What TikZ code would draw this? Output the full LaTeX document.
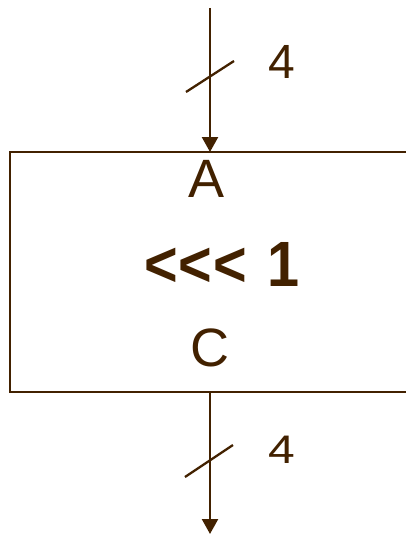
\documentclass[tikz,border=0pt]{standalone}
\usepackage{fontspec}
\setmainfont{Liberation Sans}
\usetikzlibrary{arrows.meta}
\definecolor{ink}{RGB}{66,33,0}
\begin{document}
\begin{tikzpicture}[x=1pt,y=-1pt,
  wire/.style={draw=ink,line width=2.3pt},
  bus/.style={draw=ink,line width=2.3pt},
  arr/.style={-{Triangle[width=16pt,length=15pt]}},
  lbl/.style={text=ink,inner sep=0pt,font=\fontsize{54}{60}\selectfont},
  num/.style={text=ink,inner sep=0pt,font=\fontsize{48}{54}\selectfont},
  big/.style={text=ink,inner sep=0pt,font=\fontsize{64}{70}\selectfont\bfseries}]
\useasboundingbox (0,0) rectangle (406,535);
\clip (0,0) rectangle (406,535);
\node[draw=ink,line width=2.3pt,minimum width=412pt,minimum height=240pt,
      anchor=north west,inner sep=0pt,outer sep=0pt] (box) at (10,152) {};
\coordinate (tin) at (210,8);
\coordinate (tout) at (210,534);
\draw[wire,arr,ink] (tin) -- (tin |- box.north);
\draw[wire,arr,ink] (tout |- box.south) -- (tout);
\draw[bus] (186,92) -- (234,61);
\draw[bus] (185,477) -- (233,445);
\node[num,anchor=base west] (n1) at (268,78) {4};
\node[num,anchor=base west] (n2) at (268,463) {\scalebox{1}[0.83]{4}};
\node[lbl,anchor=base] (a) at (207,197) {A};
\node[lbl,anchor=base] (c) at (209.5,366) {C};
\node[big,anchor=base west] (op) at (144,286) {\scalebox{0.9}[1]{{<}\kern1pt{<}\kern1pt{<}\kern5pt{} 1}};
\end{tikzpicture}
\end{document}
